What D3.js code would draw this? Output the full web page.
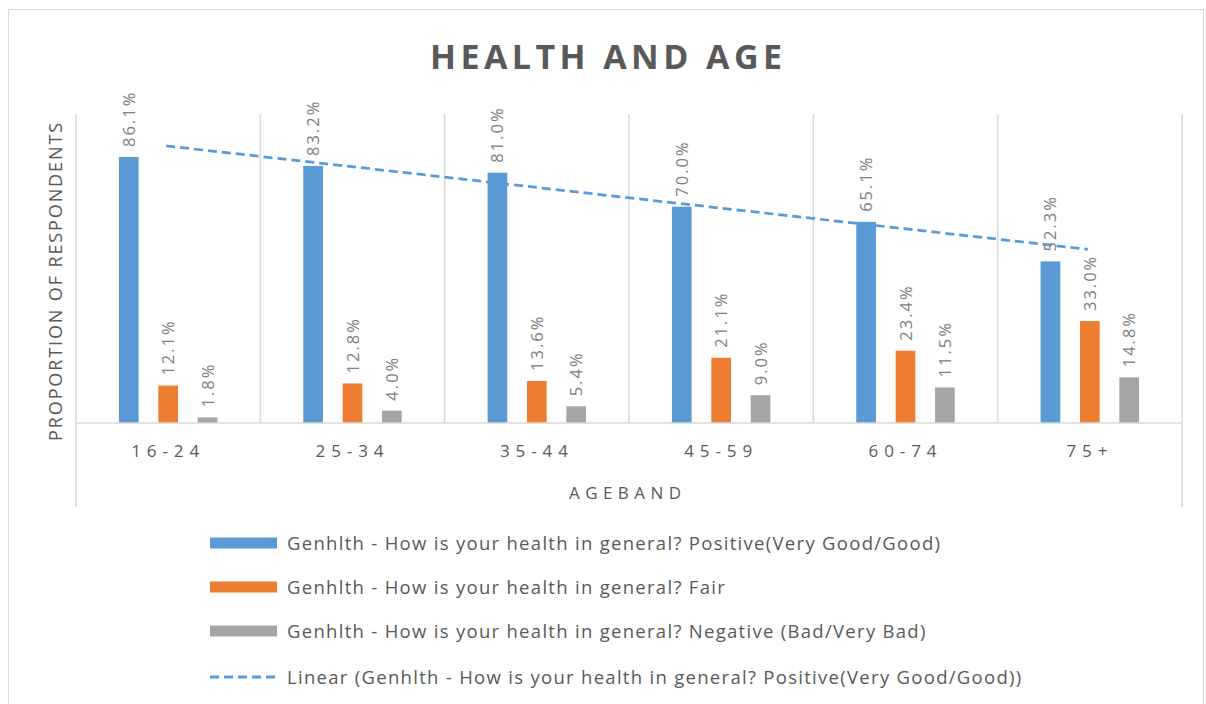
<!DOCTYPE html>
<html>
<head>
<meta charset="utf-8">
<script src="https://cdn.jsdelivr.net/npm/d3@7"></script>
<style>
  html, body { margin: 0; padding: 0; background: #fff; }
  svg { display: block; }
  text { font-family: "Open Sans", "Noto Sans", sans-serif; }
</style>
</head>
<body>
<svg id="chart" width="1206" height="704"></svg>
<script>
// ---- data ----
const categories = ["16-24", "25-34", "35-44", "45-59", "60-74", "75+"];
const seriesNames = [
  "Genhlth - How is your health in general? Positive(Very Good/Good)",
  "Genhlth - How is your health in general? Fair",
  "Genhlth - How is your health in general? Negative (Bad/Very Bad)"
];
const positiveValues = [86.1, 83.2, 81.0, 70.0, 65.1, 52.3];
const fairValues     = [12.1, 12.8, 13.6, 21.1, 23.4, 33.0];
const negativeValues = [1.8, 4.0, 5.4, 9.0, 11.5, 14.8];
const trendName = "Linear (Genhlth - How is your health in general? Positive(Very Good/Good))";
const titleText = "HEALTH AND AGE";
const yTitle = "PROPORTION OF RESPONDENTS";
const xTitle = "AGEBAND";

const seriesValues = [positiveValues, fairValues, negativeValues];
const colors = ["#5B9BD5", "#ED7D31", "#A5A5A5"];

const svg = d3.select("#chart");

// outer border
svg.append("rect")
  .attr("x", 8.5).attr("y", 9.5).attr("width", 1195).attr("height", 700)
  .attr("fill", "#fff").attr("stroke", "#d9d9d9").attr("stroke-width", 1);

const plot = { left: 76, right: 1182, top: 114, bottom: 423 };

const x0 = d3.scaleBand().domain(categories).range([plot.left, plot.right]).padding(0);
const x1 = d3.scaleBand().domain(d3.range(3)).range([0, x0.bandwidth()])
  .paddingInner(0.5).paddingOuter(1.09);
const y = d3.scaleLinear().domain([0, 100]).range([plot.bottom, plot.top]);

// helper: fit letter-spacing to a target width
function fitSpacing(sel, target) {
  sel.attr("letter-spacing", 0);
  const node = sel.node();
  const w = node.getComputedTextLength();
  const n = node.textContent.length;
  const ls = (target - w) / Math.max(1, n - 1);
  sel.attr("letter-spacing", ls);
  return ls;
}

// vertical category separators
const grid = svg.append("g");
categories.forEach((c, i) => {
  const gx = x0(c);
  grid.append("line")
    .attr("x1", gx).attr("x2", gx)
    .attr("y1", plot.top).attr("y2", i === 0 ? 507 : plot.bottom)
    .attr("stroke", "#d9d9d9").attr("stroke-width", 1.5);
});
grid.append("line")
  .attr("x1", plot.right).attr("x2", plot.right)
  .attr("y1", plot.top).attr("y2", 507)
  .attr("stroke", "#d9d9d9").attr("stroke-width", 1.5);

// bars
const barData = [];
categories.forEach((c, ci) => {
  seriesValues.forEach((vals, si) => barData.push({ c, si, v: vals[ci] }));
});

svg.append("g").selectAll("rect")
  .data(barData).join("rect")
  .attr("x", d => x0(d.c) + x1(d.si))
  .attr("y", d => y(d.v))
  .attr("width", x1.bandwidth())
  .attr("height", d => y(0) - y(d.v))
  .attr("fill", d => colors[d.si]);

// baseline
svg.append("line")
  .attr("x1", plot.left).attr("x2", plot.right)
  .attr("y1", plot.bottom).attr("y2", plot.bottom)
  .attr("stroke", "#d9d9d9").attr("stroke-width", 1.5);

// trendline (least squares on positive series)
const xs = d3.range(1, categories.length + 1);
const mx = d3.mean(xs), my = d3.mean(positiveValues);
const slope = d3.sum(xs, (xv, i) => (xv - mx) * (positiveValues[i] - my)) / d3.sum(xs, xv => (xv - mx) ** 2);
const intercept = my - slope * mx;
const trendPts = [categories[0], categories[categories.length - 1]].map((c, k) => {
  const xi = k === 0 ? 1 : categories.length;
  return [x0(c) + x0.bandwidth() / 2 - 2, y(intercept + slope * xi)];
});
svg.append("path")
  .attr("d", d3.line()(trendPts))
  .attr("fill", "none")
  .attr("stroke", "#5B9BD5")
  .attr("stroke-width", 2.75)
  .attr("stroke-dasharray", "9,5");

// data labels
svg.append("g").selectAll("text")
  .data(barData).join("text")
  .attr("transform", d => {
    const cx = x0(d.c) + x1(d.si) + x1.bandwidth() / 2 + 6;
    const ty = y(d.v) - 10;
    return `translate(${cx},${ty}) rotate(-90)`;
  })
  .attr("text-anchor", "start")
  .attr("font-size", 16.5)
  .attr("letter-spacing", 2)
  .attr("fill", "#808080")
  .text(d => d.v.toFixed(1) + "%");

// x tick labels
const xAxis = d3.axisBottom(x0).tickSize(0).tickPadding(0);
const xg = svg.append("g").attr("transform", `translate(0,${plot.bottom})`).call(xAxis);
xg.select(".domain").remove();
xg.selectAll("text")
  .attr("y", 34).attr("dy", 0)
  .attr("font-family", "\"Open Sans\", sans-serif")
  .attr("font-size", 17)
  .attr("fill", "#595959")
  .attr("letter-spacing", 5.9);

// x title
const xtt = svg.append("text")
  .attr("x", 629).attr("y", 499)
  .attr("text-anchor", "middle")
  .attr("font-size", 17)
  .attr("fill", "#595959")
  .text(xTitle);
const xls = fitSpacing(xtt, 112);
xtt.attr("x", 625 + xls / 2);

// y title
const yt = svg.append("text")
  .attr("transform", "translate(62,281) rotate(-90)")
  .attr("text-anchor", "middle")
  .attr("font-size", 18)
  .attr("fill", "#595959")
  .text(yTitle);
fitSpacing(yt, 318);

// chart title
const tt = svg.append("text")
  .attr("x", 606).attr("y", 69)
  .attr("text-anchor", "middle")
  .attr("font-size", 34)
  .attr("font-weight", "bold")
  .attr("fill", "#595959")
  .text(titleText);
const tls = fitSpacing(tt, 352);
tt.attr("x", 606 + tls / 2);

// legend
const legendItems = seriesNames.map((n, i) => ({ name: n, color: colors[i], type: "bar" }))
  .concat([{ name: trendName, color: "#5B9BD5", type: "line" }]);
const legendRowY = [543, 587, 631, 677];
const lg = svg.append("g");
let legendSpacing = null;
legendItems.forEach((it, i) => {
  const row = lg.append("g").attr("transform", `translate(0,${legendRowY[i]})`);
  if (it.type === "bar") {
    row.append("rect").attr("x", 210).attr("y", -5.5).attr("width", 67).attr("height", 11).attr("fill", it.color);
  } else {
    row.append("line").attr("x1", 210).attr("x2", 277).attr("y1", 0).attr("y2", 0)
      .attr("stroke", it.color).attr("stroke-width", 3).attr("stroke-dasharray", "9,5");
  }
  const t = row.append("text")
    .attr("x", 287).attr("y", 0).attr("dy", "0.36em")
    .attr("font-size", 18.5)
    .attr("fill", "#595959")
    .text(it.name);
  if (legendSpacing === null) legendSpacing = fitSpacing(t, 653);
  else t.attr("letter-spacing", legendSpacing);
});
</script>
</body>
</html>
